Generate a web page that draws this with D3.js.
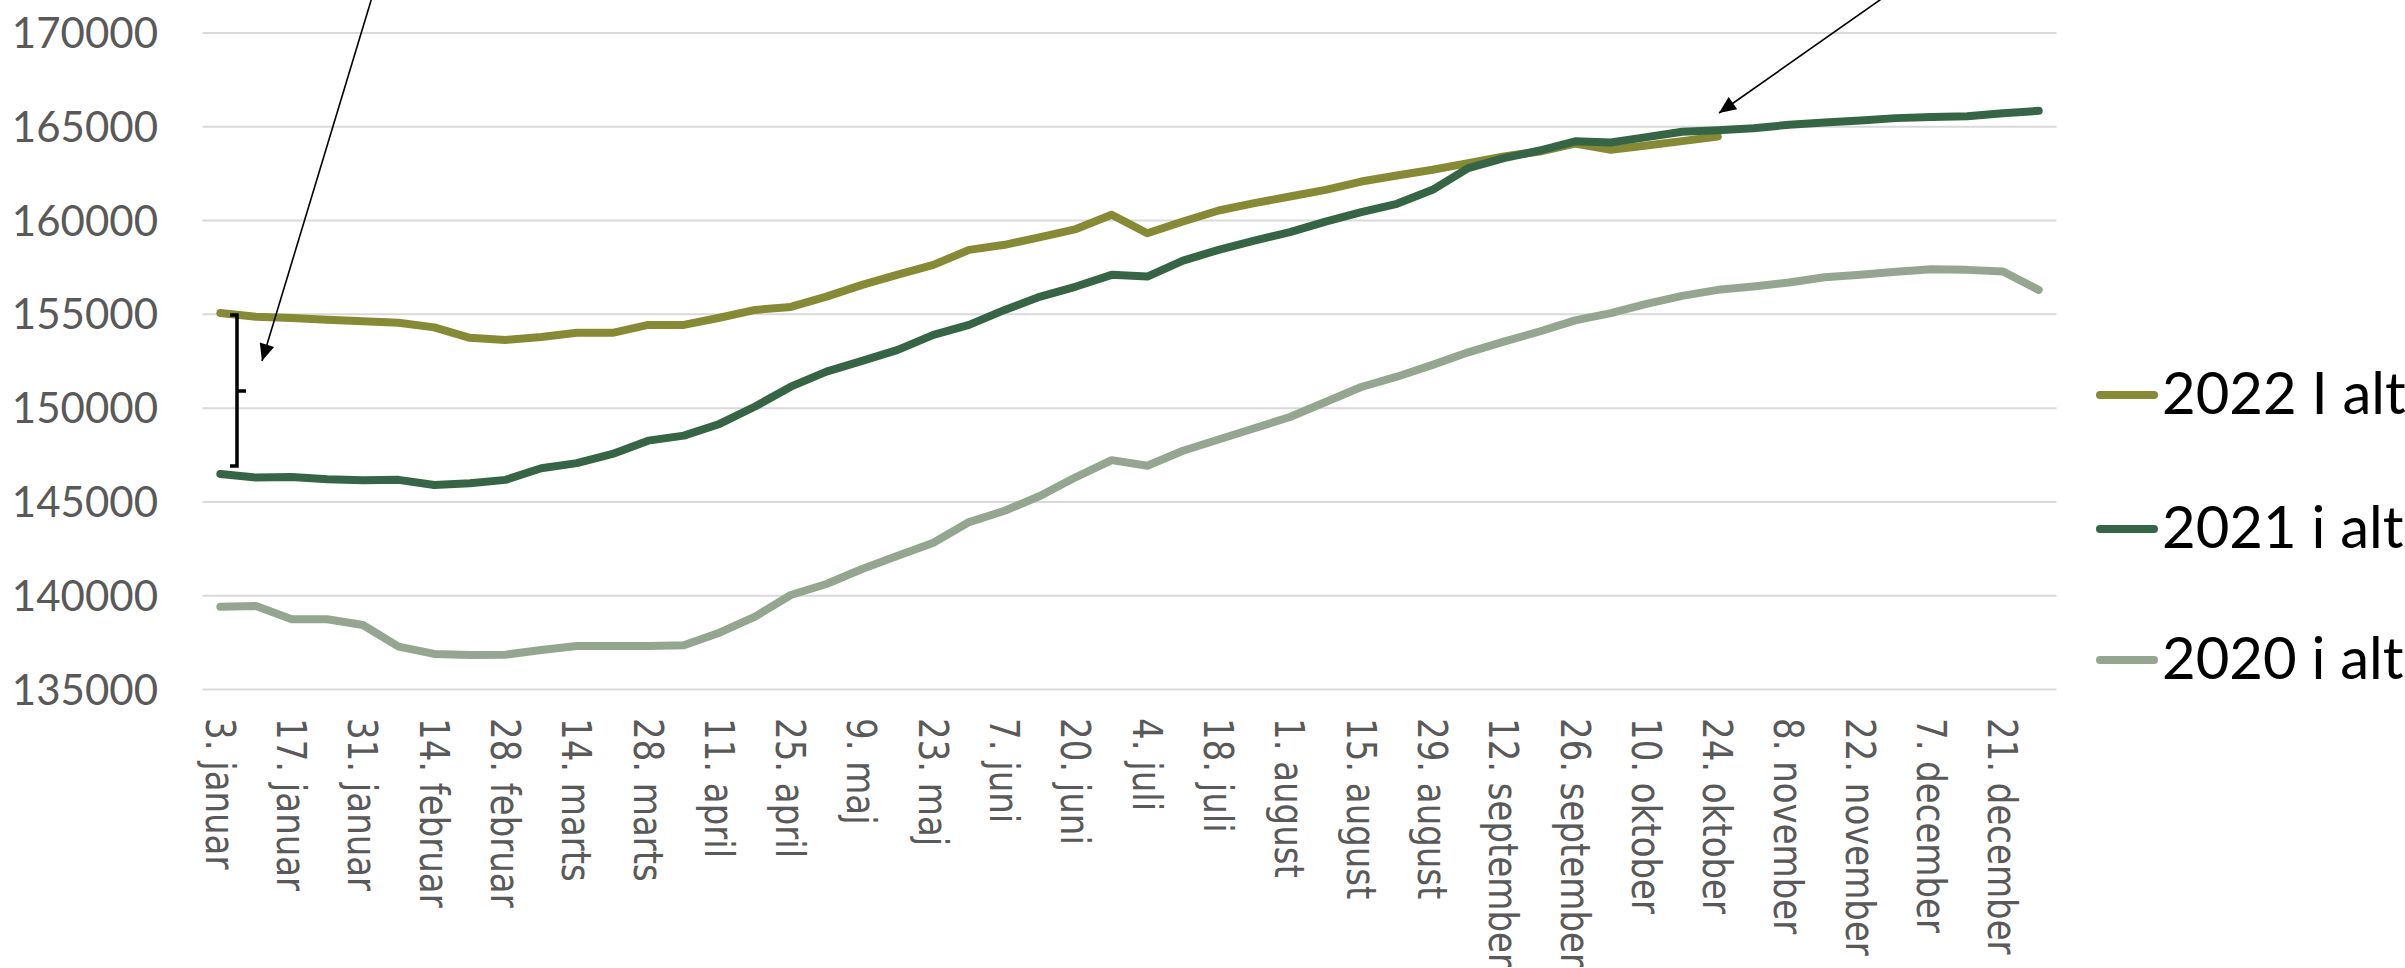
<!DOCTYPE html>
<html><head><meta charset="utf-8">
<script src="https://cdn.jsdelivr.net/npm/d3@7"></script>
<style>html,body{margin:0;padding:0;background:#fff;}svg{display:block;}</style>
</head><body>
<svg id="chart" width="2405" height="968"></svg>
<script>
const categories = ["3. januar","10. januar","17. januar","24. januar","31. januar","7. februar","14. februar","21. februar","28. februar","7. marts","14. marts","21. marts","28. marts","4. april","11. april","18. april","25. april","2. maj","9. maj","16. maj","23. maj","30. maj","7. juni","14. juni","20. juni","27. juni","4. juli","11. juli","18. juli","25. juli","1. august","8. august","15. august","22. august","29. august","5. september","12. september","19. september","26. september","3. oktober","10. oktober","17. oktober","24. oktober","31. oktober","8. november","15. november","22. november","29. november","7. december","14. december","21. december","28. december"];
const tickLabels = ["3. januar","17. januar","31. januar","14. februar","28. februar","14. marts","28. marts","11. april","25. april","9. maj","23. maj","7. juni","20. juni","4. juli","18. juli","1. august","15. august","29. august","12. september","26. september","10. oktober","24. oktober","8. november","22. november","7. december","21. december"];
const yTicks = [135000,140000,145000,150000,155000,160000,165000,170000];
const seriesNames = ["2022 I alt","2021 i alt","2020 i alt"];
const values2022 = [155050,154850,154780,154680,154600,154530,154280,153720,153610,153770,153990,153990,154410,154410,154790,155210,155370,155920,156545,157095,157610,158410,158680,159090,159520,160280,159300,159920,160510,160900,161255,161610,162055,162375,162680,163035,163390,163655,164080,163745,163980,164210,164455];
const values2021 = [146466,146270,146300,146180,146130,146150,145880,145970,146150,146770,147040,147530,148240,148510,149130,150060,151120,151922,152493,153080,153879,154412,155212,155922,156455,157079,156989,157842,158412,158908,159356,159921,160423,160865,161612,162769,163302,163708,164200,164135,164420,164705,164790,164900,165080,165200,165310,165435,165500,165540,165690,165825];
const values2020 = [139390,139430,138720,138720,138410,137260,136870,136810,136830,137080,137290,137290,137290,137330,138000,138860,140010,140600,141400,142100,142800,143900,144500,145300,146300,147200,146900,147700,148300,148900,149500,150300,151100,151650,152280,152950,153520,154060,154650,155036,155530,155960,156280,156455,156670,156955,157080,157240,157380,157345,157255,156280];
const colors = ["#878A35","#356544","#95A690"];

(function(){
const svg = d3.select("#chart");
const pLeft = 202.5, pRight = 2056.5, pTop = 32.5, pBottom = 689;
const x = d3.scalePoint().domain(categories).range([pLeft, pRight]).padding(0.5);
const y = d3.scaleLinear().domain([135000,170000]).range([pBottom, pTop]);

// gridlines
const grid = svg.append("g").attr("transform", `translate(${pLeft},0)`)
  .call(d3.axisLeft(y).tickValues(yTicks).tickSize(-(pRight-pLeft)).tickFormat(""));
grid.select(".domain").remove();
grid.selectAll("line").attr("stroke","#d9d9d9").attr("stroke-width",2);

// y labels
const ya = svg.append("g").attr("transform","translate(158,0)")
  .call(d3.axisLeft(y).tickValues(yTicks).tickSize(0).tickPadding(0).tickFormat(d3.format("d")));
ya.select(".domain").remove();
ya.selectAll("text").attr("fill","#595959").style("font-family","Lato, 'Open Sans', sans-serif").style("font-size","42px").attr("dy","0.36em");

// x labels
const xa = svg.append("g").attr("transform",`translate(0,${pBottom})`)
  .call(d3.axisBottom(x).tickValues(tickLabels).tickSize(0).tickPadding(0));
xa.select(".domain").remove();
xa.selectAll("text").attr("fill","#595959").style("font-family","'DejaVu Sans', Verdana, sans-serif").style("font-size","34px")
  .attr("x",0).attr("y",0).attr("dy","0.37em").style("text-anchor","start")
  .attr("transform","translate(0,29) rotate(90) scale(1,1.2)");

// lines
const line = d3.line().x((d,i)=>x(categories[i])).y(d=>y(d));
const allSeries = [values2022, values2021, values2020];
allSeries.forEach((vals, k) => {
  svg.append("path").datum(vals).attr("d", line).attr("fill","none")
    .attr("stroke", colors[k]).attr("stroke-width",8)
    .attr("stroke-linejoin","round").attr("stroke-linecap","round");
});

// bracket annotation
svg.append("path").attr("d","M230,315 L237,315 L237,466 L230,466 M237,391 L246,391")
  .attr("fill","none").attr("stroke","#000").attr("stroke-width",3.5);

// arrows
function arrow(x1,y1,x2,y2){
  svg.append("line").attr("x1",x1).attr("y1",y1).attr("x2",x2).attr("y2",y2)
    .attr("stroke","#000").attr("stroke-width",1.6);
  const a = Math.atan2(y2-y1, x2-x1), L = 17, W = 7.5;
  const bx = x2 - L*Math.cos(a), by = y2 - L*Math.sin(a);
  const px = -Math.sin(a)*W, py = Math.cos(a)*W;
  svg.append("path").attr("d",`M${x2},${y2} L${bx+px},${by+py} L${bx-px},${by-py} Z`).attr("fill","#000");
}
arrow(373,-6,262,361);
arrow(1887,-5,1719,113);

// legend
const legY = [395, 529, 660];
seriesNames.forEach((n,k) => {
  svg.append("line").attr("x1",2100).attr("x2",2154).attr("y1",legY[k]).attr("y2",legY[k])
    .attr("stroke",colors[k]).attr("stroke-width",8).attr("stroke-linecap","round");
  svg.append("text").attr("x",2162).attr("y",legY[k]).attr("dy","0.32em")
    .style("font-family","Lato, 'Open Sans', sans-serif").style("font-size","58px").attr("fill","#000").text(n);
});
})();
</script>
</body></html>
